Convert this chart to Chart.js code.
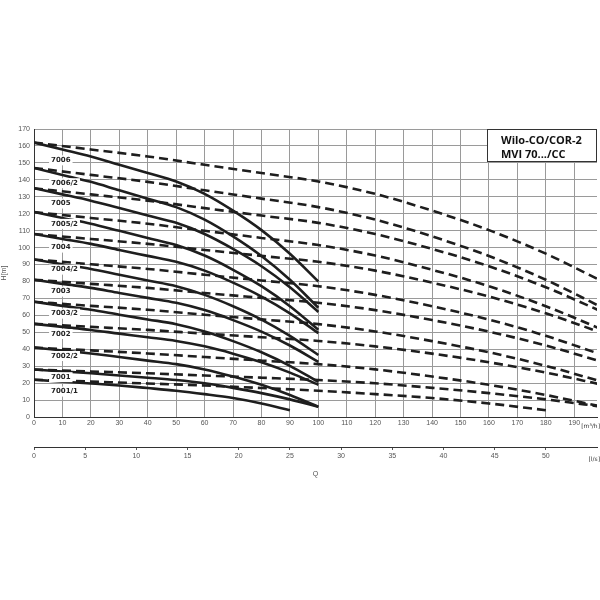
<!DOCTYPE html>
<html><head><meta charset="utf-8">
<script src="https://cdn.jsdelivr.net/npm/chart.js@4"></script>
<style>html,body{margin:0;padding:0;background:#fff}</style>
</head><body>
<canvas id="c" width="600" height="600"></canvas>
<script>
const flowQ=[0,10,20,30,40,50,60,70,80,90,100];
const parallelQ=[0,20,40,60,80,100,120,140,160,180,200];
const pumpNames=["7006","7006/2","7005","7005/2","7004","7004/2","7003","7003/2","7002","7002/2","7001","7001/1"];
const h7006=[162,157.9,153.8,148.9,144.0,139.0,131.7,121.8,110.3,96.4,80];
const h7006_2=[147,142.9,138.8,133.8,128.9,123.9,116.5,106.6,95.0,81.0,64.5];
const h7005=[135,131.4,127.7,123.3,118.9,114.6,108.0,99.2,89.0,76.6,62];
const h7005_2=[121,117.5,114.1,109.9,105.7,101.5,95.3,86.9,77.2,65.4,51.5];
const h7004=[108,105.1,102.2,98.6,95.1,91.6,86.4,79.3,71.1,61.2,49.5];
const h7004_2=[93,90.2,87.4,84.0,80.6,77.2,72.1,65.4,57.5,47.9,36.6];
const h7003=[81,78.6,76.2,73.2,70.3,67.4,63.1,57.2,50.4,42.2,32.5];
const h7003_2=[68,65.6,63.3,60.4,57.6,54.8,50.5,44.8,38.2,30.2,20.7];
const h7002=[55,53.2,51.4,49.2,47.1,44.9,41.7,37.4,32.3,26.2,19];
const h7002_2=[41,39.3,37.5,35.4,33.3,31.2,28.1,23.9,19.0,13.0,6];
const h7001=[28,26.9,25.8,24.5,23.2,21.8,19.9,17.2,14.1,10.4,6];
const h7001_1=[22,20.9,19.8,18.6,17.1,15.5,13.5,11.2,8.0,4];
const heads=[h7006,h7006_2,h7005,h7005_2,h7004,h7004_2,h7003,h7003_2,h7002,h7002_2,h7001,h7001_1];
const labelH=[151.5,138,126,114,100,87,74,61,49,36,23.5,15];
const yTicks=[0,10,20,30,40,50,60,70,80,90,100,110,120,130,140,150,160,170];
const m3hTicks=[0,10,20,30,40,50,60,70,80,90,100,110,120,130,140,150,160,170,180,190];
const lsTicks=[0,5,10,15,20,25,30,35,40,45,50];

const datasets=[];
heads.forEach((h,i)=>{
  datasets.push({data:h.map((v,j)=>({x:flowQ[j],y:v})),borderColor:'#1e1e1e',borderWidth:2.6,pointRadius:0,showLine:true,cubicInterpolationMode:'monotone',xAxisID:'x',yAxisID:'y'});
  datasets.push({data:h.map((v,j)=>({x:parallelQ[j],y:v})),borderColor:'#1e1e1e',borderWidth:2.6,borderDash:[9,5],pointRadius:0,showLine:true,cubicInterpolationMode:'monotone',xAxisID:'x',yAxisID:'y'});
});

const overlay={id:'overlay',afterDatasetsDraw(ch){
  const c=ch.ctx,a=ch.chartArea,xs=ch.scales.x,ys=ch.scales.y,x2=ch.scales.x2;
  c.save();
  c.font='bold 7px "DejaVu Sans"';c.textBaseline='middle';
  pumpNames.forEach((n,i)=>{
    const x=xs.getPixelForValue(6),y=ys.getPixelForValue(labelH[i]);
    const w=c.measureText(n).width;
    c.fillStyle='#fff';c.fillRect(x-2,y-5,w+4,10);
    c.fillStyle='#222';c.fillText(n,x,y);
  });
  c.font='6px "DejaVu Sans"';c.fillStyle='#333';c.textAlign='right';
  c.fillText('[m³/h]',600,a.bottom+9);
  c.fillText('[l/s]',600,x2.top+12);
  c.textAlign='left';
  const bx=487,by=a.top,bw=a.right-bx,bh=33;
  c.fillStyle='#fff';c.fillRect(bx,by,bw,bh);
  c.strokeStyle='#333';c.lineWidth=1;c.strokeRect(bx+0.5,by+0.5,bw-1,bh-1);
  c.fillStyle='#111';c.font='bold 11px "Open Sans"';c.textBaseline='alphabetic';
  c.fillText('Wilo-CO/COR-2',bx+14,by+15);
  c.fillText('MVI 70.../CC',bx+14,by+29);
  c.restore();
}};

new Chart(document.getElementById('c'),{
  type:'scatter',
  data:{datasets},
  options:{
    responsive:false,animation:false,
    layout:{padding:{top:129,right:3,left:0,bottom:120}},
    plugins:{legend:{display:false},tooltip:{enabled:false}},
    scales:{
      x:{type:'linear',min:0,max:198,position:'bottom',
        afterBuildTicks(s){s.ticks=m3hTicks.map(v=>({value:v}));},
        ticks:{font:{size:7},color:'#555',padding:2,maxRotation:0,autoSkip:false},
        grid:{color:'#9a9a9a',lineWidth:1,tickLength:0},border:{color:'#333',width:1},
        afterFit(s){s.height=30;}},
      x2:{type:'linear',min:0,max:55,position:'bottom',
        afterBuildTicks(s){s.ticks=lsTicks.map(v=>({value:v}));},
        ticks:{font:{size:7},color:'#555',padding:2,maxRotation:0,autoSkip:false},
        grid:{drawOnChartArea:false,color:'#555',tickLength:3},border:{color:'#333',width:1},
        title:{display:true,text:'Q',font:{size:7},color:'#555',padding:2},
        afterFit(s){s.height=33;}},
      y:{min:0,max:170,
        afterBuildTicks(s){s.ticks=yTicks.map(v=>({value:v}));},
        ticks:{font:{size:7},color:'#555',padding:4},
        grid:{color:'#9a9a9a',lineWidth:1,tickLength:0},border:{color:'#333',width:1},
        title:{display:true,text:'H[m]',font:{size:7},color:'#555',padding:0},
        afterFit(s){s.width=34;}}
    }
  },
  plugins:[overlay]
});
</script>
</body></html>
